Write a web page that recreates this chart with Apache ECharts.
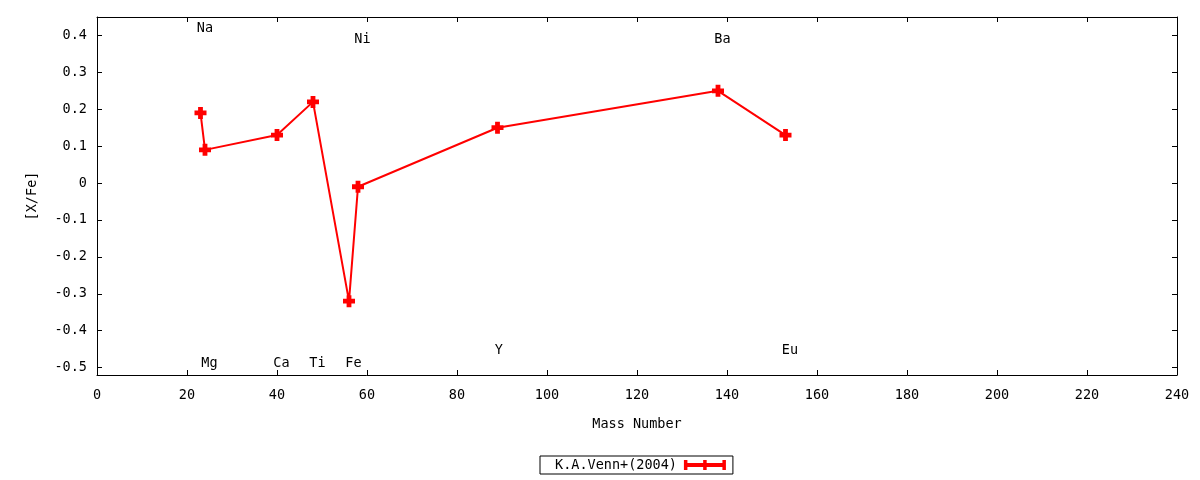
<!DOCTYPE html>
<html>
<head>
<meta charset="utf-8">
<script src="https://cdn.jsdelivr.net/npm/echarts@6/dist/echarts.min.js"></script>
<style>
html,body{margin:0;padding:0;background:#fff;}
#chart{width:1200px;height:480px;}
</style>
</head>
<body>
<div id="chart"></div>
<script>
// Data
const elements = ['Na','Mg','Ca','Ti','Fe','Ni','Y','Ba','Eu'];
const massNumbers = [23, 24, 40, 48, 56, 58, 89, 138, 153];
const xFeValues = [0.19, 0.09, 0.13, 0.22, -0.32, -0.01, 0.15, 0.25, 0.13];
// element annotation positions (data coordinates)
const labelX = [24, 25, 41, 49, 57, 59, 89.3, 139, 154];
const labelY = [0.42, -0.49, -0.49, -0.49, -0.49, 0.39, -0.454, 0.39, -0.454];
const yTicks = [-0.5, -0.4, -0.3, -0.2, -0.1, 0, 0.1, 0.2, 0.3, 0.4];
const seriesName = 'K.A.Venn+(2004)';

const FONT = 'DejaVu Sans Mono';
const FS = 13.5;
const plusPath = 'path://M3,0H7V3H10V7H7V10H3V7H0V3H3Z';
const legendIconPath = 'path://M0,0H3.5V3H19.25V0H22.75V3H38.5V0H42V10H38.5V7H22.75V10H19.25V7H3.5V10H0Z';

const chart = echarts.init(document.getElementById('chart'));
const tick = {show: true, inside: true, length: 5, lineStyle: {color: '#000', width: 1}};
const axLine = {show: true, onZero: false, lineStyle: {color: '#000', width: 1}};

chart.setOption({
  animation: false,
  backgroundColor: '#fff',
  textStyle: {fontFamily: FONT},
  grid: {left: 97, right: 23, top: 17, bottom: 105},
  xAxis: [{
    type: 'value', min: 0, max: 240, interval: 20, position: 'bottom',
    name: 'Mass Number', nameLocation: 'middle', nameGap: 42,
    nameTextStyle: {fontFamily: FONT, fontSize: FS, color: '#000'},
    axisLine: axLine, axisTick: tick, splitLine: {show: false},
    axisLabel: {fontFamily: FONT, fontSize: FS, color: '#000', margin: 13}
  }, {
    type: 'value', min: 0, max: 240, interval: 20, position: 'top',
    axisLine: axLine, axisTick: tick, splitLine: {show: false},
    axisLabel: {show: false}
  }],
  yAxis: [{
    type: 'value', min: -0.52, max: 0.45, position: 'left',
    name: '[X/Fe]', nameLocation: 'middle', nameGap: 58, nameRotate: 90,
    nameTextStyle: {fontFamily: FONT, fontSize: FS, color: '#000'},
    axisLine: axLine,
    axisTick: Object.assign({}, tick, {customValues: yTicks}),
    splitLine: {show: false},
    axisLabel: {fontFamily: FONT, fontSize: FS, color: '#000', margin: 10,
      customValues: yTicks,
      formatter: v => (Math.abs(v) < 1e-9 ? '0' : String(Math.round(v*10)/10))}
  }, {
    type: 'value', min: -0.52, max: 0.45, position: 'right',
    axisLine: axLine,
    axisTick: Object.assign({}, tick, {customValues: yTicks}),
    splitLine: {show: false},
    axisLabel: {show: false}
  }],
  legend: {
    show: true, bottom: 6, left: 540,
    data: [{name: seriesName, icon: legendIconPath, itemStyle: {color: '#ff0000'}}],
    align: 'right',
    itemWidth: 42, itemHeight: 10, itemGap: 8,
    borderColor: '#000', borderWidth: 1, borderRadius: 0,
    padding: [2, 7, 2, 15],
    textStyle: {fontFamily: FONT, fontSize: FS, color: '#000', padding: [0, 2, 0, 0]}
  },
  series: [{
    name: seriesName, type: 'line',
    xAxisIndex: 0, yAxisIndex: 0,
    data: massNumbers.map((m, i) => [m, xFeValues[i]]),
    symbol: plusPath, symbolSize: 12, showAllSymbol: true,
    lineStyle: {color: '#ff0000', width: 2},
    itemStyle: {color: '#ff0000'},
    z: 3
  }, {
    name: 'labels', type: 'scatter',
    xAxisIndex: 0, yAxisIndex: 0,
    data: labelX.map((x, i) => ({value: [x, labelY[i]], name: elements[i]})),
    symbolSize: 0, silent: true,
    itemStyle: {opacity: 1},
    label: {show: true, position: 'inside', formatter: p => p.name,
      fontFamily: FONT, fontSize: FS, color: '#000', opacity: 1,
      textBorderWidth: 0, textBorderColor: 'transparent'},
    z: 4
  }]
});
</script>
</body>
</html>
